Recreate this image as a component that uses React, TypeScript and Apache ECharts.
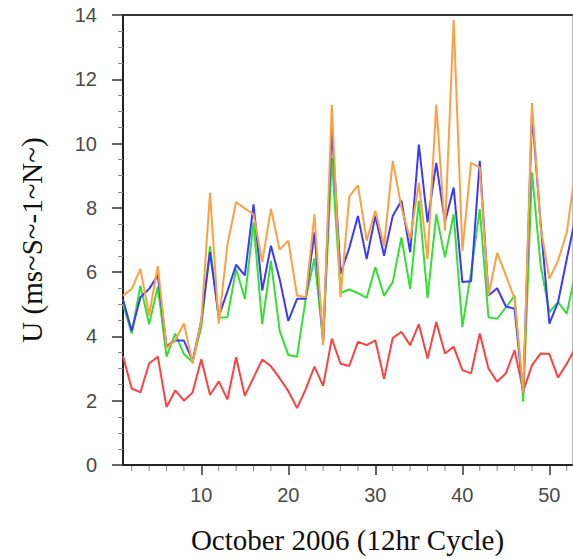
import React, { useEffect, useRef } from "react";
import * as echarts from "echarts";

// Cycle index (12-hour cycles in October 2006)
const cycles = [
  1, 2, 3, 4, 5, 6, 7, 8, 9, 10, 11, 12, 13, 14, 15, 16, 17, 18, 19, 20,
  21, 22, 23, 24, 25, 26, 27, 28, 29, 30, 31, 32, 33, 34, 35, 36, 37, 38, 39, 40,
  41, 42, 43, 44, 45, 46, 47, 48, 49, 50, 51, 52, 53,
];

const redValues = [
  3.38, 2.38, 2.26, 3.16, 3.37, 1.8, 2.32, 2.0, 2.26, 3.29,
  2.18, 2.6, 2.04, 3.35, 2.15, 2.72, 3.28, 3.07, 2.7, 2.3,
  1.77, 2.36, 3.06, 2.46, 3.93, 3.15, 3.08, 3.83, 3.73, 3.88,
  2.68, 3.95, 4.14, 3.73, 4.38, 3.31, 4.45, 3.47, 3.68, 2.95,
  2.85, 4.09, 3.0, 2.59, 2.85, 3.57, 2.3, 3.1, 3.47, 3.45,
  2.72, 3.15, 3.65,
];

const greenValues = [
  5.0, 4.09, 5.58, 4.38, 5.55, 3.37, 4.09, 3.45, 3.2, 4.3,
  6.8, 4.58, 4.6, 6.1, 5.17, 7.55, 4.38, 6.35, 4.18, 3.42,
  3.37, 5.17, 6.43, 3.83, 9.56, 5.35, 5.46, 5.35, 5.2, 6.15,
  5.27, 5.69, 7.08, 5.48, 8.22, 5.2, 7.8, 6.46, 7.8, 4.29,
  6.0, 7.96, 4.6, 4.55, 4.9, 5.27, 1.97, 9.1, 6.2, 4.76,
  5.07, 4.71, 6.0,
];

const blueValues = [
  5.15, 4.17, 5.22, 5.48, 5.9, 3.7, 3.87, 3.87, 3.24, 4.5,
  6.62, 4.62, 5.4, 6.23, 5.9, 8.11, 5.43, 6.82, 5.79, 4.48,
  5.17, 5.17, 7.24, 3.83, 10.54, 5.95, 6.75, 7.75, 6.41, 7.75,
  6.51, 7.75, 8.22, 6.62, 9.97, 7.55, 9.4, 7.55, 8.63, 5.69,
  5.72, 9.46, 5.27, 5.5, 4.93, 4.86, 2.23, 10.95, 7.5, 4.4,
  5.07, 6.41, 7.7,
];

const orangeValues = [
  5.27, 5.48, 6.1, 4.65, 6.19, 3.65, 3.88, 4.4, 3.16, 4.5,
  8.47, 4.4, 6.85, 8.18, 7.98, 7.8, 6.31, 7.97, 6.7, 6.98,
  5.27, 5.22, 7.8, 3.73, 11.2, 5.22, 8.35, 8.7, 6.98, 7.91,
  6.82, 9.46, 8.01, 7.03, 8.78, 6.41, 11.21, 7.29, 13.84, 6.67,
  9.4, 9.25, 5.27, 6.6, 5.9, 5.17, 2.23, 11.26, 7.39, 5.79,
  6.36, 7.24, 9.2,
];

const xMajorTicks = [10, 20, 30, 40, 50];
const xMinorTicks = [2, 4, 6, 8, 12, 14, 16, 18, 22, 24, 26, 28, 32, 34, 36, 38, 42, 44, 46, 48, 52];

const X_MIN = 1;
const X_MAX = 52.6;

const pair = (vals: number[]) => cycles.map((c, i) => [c, vals[i]]);

export default function App() {
  const ref = useRef<HTMLDivElement>(null);

  useEffect(() => {
    if (!ref.current) return;
    const chart = echarts.init(ref.current, undefined, { renderer: "svg" });
    const lineSeries = (name: string, vals: number[], color: string) => ({
      name,
      type: "line",
      data: pair(vals),
      showSymbol: false,
      symbol: "none",
      clip: true,
      lineStyle: { color, width: 2 },
      itemStyle: { color },
      z: 3,
    });
    chart.setOption({
      animation: false,
      backgroundColor: "#fff",
      grid: { left: 123, top: 15, right: 1, bottom: 92, containLabel: false },
      xAxis: [
        {
          type: "value",
          min: X_MIN,
          max: X_MAX,
          position: "bottom",
          name: "October 2006 (12hr Cycle)",
          nameLocation: "middle",
          nameGap: 60,
          nameTextStyle: { fontFamily: "Liberation Serif", fontSize: 29, color: "#111" },
          axisLine: { show: true, onZero: false, lineStyle: { color: "#222", width: 2 } },
          axisTick: { show: true, customValues: xMajorTicks, length: 10, lineStyle: { color: "#333", width: 1.5 } },
          axisLabel: {
            customValues: xMajorTicks,
            margin: 20,
            fontFamily: "Liberation Sans",
            fontSize: 20,
            color: "#4a4a4a",
          },
          splitLine: { show: false },
        },
        {
          type: "value",
          min: X_MIN,
          max: X_MAX,
          position: "top",
          axisLine: { show: true, onZero: false, lineStyle: { color: "#333", width: 2 } },
          axisTick: { show: false },
          axisLabel: { show: false },
          splitLine: { show: false },
        },
      ],
      yAxis: [
        {
          type: "value",
          min: 0,
          max: 14,
          interval: 2,
          position: "left",
          name: "U (ms~S~-1~N~)",
          nameLocation: "middle",
          nameGap: 77,
          nameTextStyle: { fontFamily: "Liberation Serif", fontSize: 29, color: "#111" },
          axisLine: { show: true, onZero: false, lineStyle: { color: "#222", width: 2 } },
          axisTick: { show: true, length: 11, lineStyle: { color: "#333", width: 1.5 } },
          minorTick: { show: true, splitNumber: 4, length: 5, lineStyle: { color: "#888", width: 1 } },
          axisLabel: {
            margin: 26,
            fontFamily: "Liberation Sans",
            fontSize: 20,
            color: "#4a4a4a",
          },
          splitLine: { show: false },
          minorSplitLine: { show: false },
        },
        {
          type: "value",
          min: 0,
          max: 14,
          position: "right",
          axisLine: { show: true, onZero: false, lineStyle: { color: "#bbb", width: 1 } },
          axisTick: { show: false },
          axisLabel: { show: false },
          splitLine: { show: false },
        },
      ],
      series: [
        {
          name: "minorTicks",
          type: "custom",
          xAxisIndex: 0,
          yAxisIndex: 0,
          clip: false,
          silent: true,
          data: xMinorTicks.map((v) => [v, 0]),
          renderItem: (_params: any, api: any) => {
            const p = api.coord([api.value(0), 0]);
            return {
              type: "line",
              shape: { x1: p[0], y1: p[1] + 1, x2: p[0], y2: p[1] + 6 },
              style: { stroke: "#888", lineWidth: 1 },
            };
          },
          z: 1,
        },
        lineSeries("Red", redValues, "#ff4040"),
        lineSeries("Green", greenValues, "#33e033"),
        lineSeries("Blue", blueValues, "#3a3aff"),
        lineSeries("Orange", orangeValues, "#ffa040"),
      ],
    });
    return () => chart.dispose();
  }, []);

  return <div ref={ref} style={{ width: 573, height: 559, position: "absolute", left: 0, top: 0 }} />;
}
